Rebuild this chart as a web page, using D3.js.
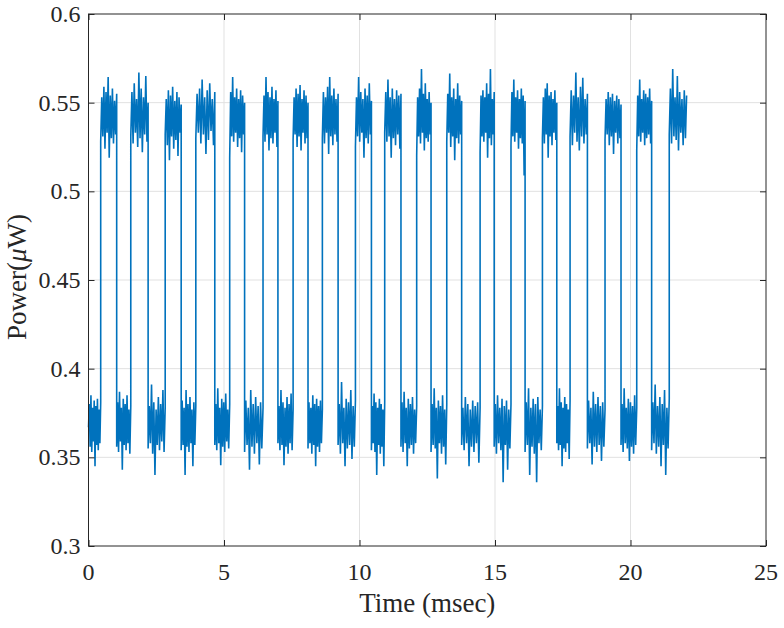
<!DOCTYPE html>
<html>
<head>
<meta charset="utf-8">
<script src="https://cdn.jsdelivr.net/npm/d3@7"></script>
<style>
    body { margin: 0; background: #fff; }
    .chart { width: 784px; height: 628px; }
    .lbl { font-family: "Liberation Serif", "DejaVu Serif", serif; fill: #262626; }
</style>
</head>
<body>
<div class="chart"></div>
<script>
// DATA *****************************************************************************
// axis ticks
var xTicks = [0, 5, 10, 15, 20, 25];
var yTicks = [0.3, 0.35, 0.4, 0.45, 0.5, 0.55, 0.6];
var xTickLabels = ['0', '5', '10', '15', '20', '25'];
var yTickLabels = ['0.3', '0.35', '0.4', '0.45', '0.5', '0.55', '0.6'];

// edge times (msec): low->high and high->low
var riseTimes = [0.45, 1.56, 2.83, 3.96, 5.21, 6.44, 7.55, 8.63, 9.85, 10.93,
                 12.11, 13.22, 14.45, 15.59, 16.75, 17.77, 19.06, 20.23, 21.43];
// last entry is where the record stops
var fallTimes = [1.04, 2.20, 3.42, 4.66, 5.76, 6.99, 8.10, 9.21, 10.44, 11.53,
                 12.64, 13.77, 14.97, 16.11, 17.28, 18.41, 19.65, 20.78, 22.07];

// sampled power (uW) inside each low plateau, left to right
var lowNoise = [
    [.367,.380,.356,.385,.353,.378,.359,.382,.345,.379,.357,.383,.354,.377,.358,.381],
    [.356,.381,.353,.387,.359,.378,.343,.383,.357,.380,.354,.385,.358,.377,.352,.379],
    [.355,.379,.358,.391,.352,.381,.340,.377,.357,.384,.354,.380,.359,.388,.353,.378],
    [.354,.382,.357,.378,.340,.388,.356,.380,.353,.384,.358,.377,.345,.381,.357,.379],
    [.357,.380,.354,.389,.358,.378,.3455,.383,.356,.381,.353,.386,.359,.377,.355,.380],
    [.353,.382,.357,.378,.343,.388,.356,.380,.352,.384,.358,.379,.346,.381,.355,.378],
    [.358,.379,.354,.388,.357,.381,.3455,.378,.356,.384,.352,.380,.358,.386,.354,.377],
    [.355,.381,.358,.378,.352,.385,.357,.380,.345,.383,.356,.379,.353,.382,.358,.377],
    [.357,.380,.352,.3925,.358,.378,.345,.383,.355,.381,.357,.388,.349,.379,.356,.382],
    [.354,.379,.358,.386,.353,.381,.340,.378,.357,.383,.352,.380,.356,.377,.345,.381],
    [.356,.381,.353,.387,.358,.378,.345,.383,.355,.380,.357,.384,.352,.377,.358,.379],
    [.353,.380,.357,.389,.355,.378,.338,.382,.358,.379,.352,.385,.356,.377,.346,.380],
    [.357,.378,.354,.384,.358,.380,.345,.377,.356,.382,.353,.379,.358,.381,.347,.378],
    [.356,.380,.352,.385,.358,.378,.354,.383,.336,.379,.357,.382,.343,.377,.355,.380],
    [.353,.381,.357,.389,.340,.378,.356,.383,.352,.380,.336,.384,.358,.377,.354,.379],
    [.358,.379,.354,.389,.357,.381,.345,.378,.355,.384,.353,.380,.358,.377,.349,.382],
    [.355,.382,.358,.378,.346,.387,.356,.380,.353,.384,.357,.379,.348,.381,.356,.377],
    [.357,.380,.353,.389,.358,.378,.355,.383,.348,.381,.356,.379,.352,.385,.357,.378],
    [.354,.381,.358,.391,.352,.379,.356,.384,.345,.380,.357,.388,.340,.378,.355,.383]
];

// sampled power (uW) inside each high plateau, left to right
var highNoise = [
    [.528,.553,.531,.559,.524,.556,.533,.5645,.519,.554,.530,.558,.527,.551,.532,.555],
    [.531,.556,.527,.561,.533,.552,.525,.567,.530,.558,.522,.553,.532,.565,.528,.550],
    [.532,.552,.526,.557,.5175,.554,.531,.559,.524,.551,.529,.556,.520,.553,.533,.549],
    [.530,.555,.533,.558,.527,.563,.532,.553,.521,.557,.529,.561,.534,.552,.526,.556],
    [.519,.556,.531,.5645,.528,.553,.533,.558,.525,.552,.530,.557,.522,.554,.532,.550],
    [.531,.554,.528,.5645,.532,.556,.523,.553,.530,.559,.527,.552,.533,.557,.525,.551],
    [.529,.553,.532,.558,.525,.555,.531,.560,.523,.552,.533,.557,.527,.554,.530,.550],
    [.530,.556,.527,.553,.533,.559,.521,.5645,.531,.554,.526,.558,.532,.552,.528,.555],
    [.525,.553,.531,.5645,.528,.556,.533,.552,.519,.558,.530,.554,.527,.561,.532,.551],
    [.533,.556,.528,.563,.531,.553,.519,.558,.530,.552,.526,.557,.532,.554,.524,.555],
    [.520,.553,.531,.558,.527,.569,.533,.555,.523,.561,.530,.552,.528,.556,.532,.550],
    [.528,.555,.533,.5664,.525,.553,.531,.558,.5175,.552,.530,.561,.527,.554,.532,.551],
    [.522,.554,.531,.557,.528,.553,.533,.561,.519,.555,.530,.569,.526,.552,.532,.556],
    [.526,.556,.531,.563,.528,.553,.533,.557,.524,.552,.530,.558,.527,.554,.509,.551],
    [.530,.553,.527,.558,.532,.561,.519,.554,.531,.556,.526,.552,.533,.557,.529,.550],
    [.531,.557,.526,.554,.533,.567,.528,.553,.523,.559,.531,.564,.527,.552,.532,.555],
    [.529,.552,.532,.556,.526,.553,.531,.555,.521,.551,.533,.554,.527,.552,.530,.549],
    [.523,.554,.531,.563,.528,.552,.533,.557,.526,.555,.530,.553,.532,.558,.527,.551],
    [.532,.558,.527,.569,.531,.553,.529,.565,.523,.556,.533,.552,.526,.557,.530,.554]
];


// MARGIN CONVENTION ******************************************************************
var margin = {top: 14, right: 18, bottom: 82, left: 88.5};
var width = 784 - margin.left - margin.right,
    height = 628 - margin.top - margin.bottom;

var svg = d3.select('.chart').append('svg')
                .attr('width', 784)
                .attr('height', 628)
            .append('g')
                .attr('transform', 'translate(' + margin.left + ',' + margin.top + ')');

// SCALES
var xScale = d3.scaleLinear().domain([0, 25]).range([0, width]);
var yScale = d3.scaleLinear().domain([0.3, 0.6]).range([height, 0]);


// GRID *******************************************************************************
var gridG = svg.append('g').attr('class', 'grid');
gridG.selectAll('.gx')
    .data(xTicks.slice(1, -1))
    .enter().append('line')
    .attr('x1', function(d) { return xScale(d); })
    .attr('x2', function(d) { return xScale(d); })
    .attr('y1', 0).attr('y2', height);
gridG.selectAll('.gy')
    .data(yTicks.slice(1, -1))
    .enter().append('line')
    .attr('y1', function(d) { return yScale(d); })
    .attr('y2', function(d) { return yScale(d); })
    .attr('x1', 0).attr('x2', width);
gridG.selectAll('line').attr('stroke', '#e1e1e1').attr('stroke-width', 1);


// TRACE ******************************************************************************
// each plateau's samples are spread evenly between its two edges
var samples = [];
function addPlateau(t0, t1, vals) {
    vals.forEach(function(v, k) {
        samples.push({t: t0 + (t1 - t0) * k / (vals.length - 1), p: v});
    });
}
for (var i = 0; i < riseTimes.length; i++) {
    addPlateau(i === 0 ? 0 : fallTimes[i - 1], riseTimes[i], lowNoise[i]);
    addPlateau(riseTimes[i], fallTimes[i], highNoise[i]);
}

var line = d3.line()
                .x(function(d) { return xScale(d.t); })
                .y(function(d) { return yScale(d.p); });

svg.append('path')
    .datum(samples)
    .attr('d', line)
    .attr('fill', 'none')
    .attr('stroke', '#0072BD')
    .attr('stroke-width', 1.6)
    .attr('stroke-linejoin', 'bevel');


// AXES (tick marks only, labels drawn below) ****************************************
function styleAxis(g) {
    g.select('.domain').remove();
    g.selectAll('.tick text').remove();
    g.selectAll('.tick line').attr('stroke', '#262626').attr('stroke-width', 1);
}

svg.append('g')
    .attr('transform', 'translate(0,' + height + ')')
    .call(d3.axisBottom(xScale).tickValues(xTicks).tickSizeInner(-6).tickSizeOuter(0))
    .call(styleAxis);
svg.append('g')
    .call(d3.axisLeft(yScale).tickValues(yTicks).tickSizeInner(-6).tickSizeOuter(0))
    .call(styleAxis);
// mirrored ticks on top and right (box on)
svg.append('g')
    .call(d3.axisTop(xScale).tickValues(xTicks).tickSizeInner(-6).tickSizeOuter(0))
    .call(styleAxis);
svg.append('g')
    .attr('transform', 'translate(' + width + ',0)')
    .call(d3.axisRight(yScale).tickValues(yTicks).tickSizeInner(-6).tickSizeOuter(0))
    .call(styleAxis);

// TICK LABELS
svg.append('g').selectAll('text')
    .data(xTicks)
    .enter().append('text')
    .attr('class', 'lbl')
    .attr('x', function(d) { return xScale(d); })
    .attr('y', height + 34)
    .attr('text-anchor', 'middle')
    .attr('font-size', 24)
    .text(function(d, i) { return xTickLabels[i]; });

svg.append('g').selectAll('text')
    .data(yTicks)
    .enter().append('text')
    .attr('class', 'lbl')
    .attr('x', -8)
    .attr('y', function(d) { return yScale(d) + 8; })
    .attr('text-anchor', 'end')
    .attr('font-size', 24)
    .text(function(d, i) { return yTickLabels[i]; });

// BOX
svg.append('rect')
    .attr('x', 0).attr('y', 0)
    .attr('width', width).attr('height', height)
    .attr('fill', 'none')
    .attr('stroke', '#262626')
    .attr('stroke-width', 1);


// LABELS *****************************************************************************
svg.append('text')
    .attr('class', 'lbl')
    .attr('x', width / 2)
    .attr('y', height + 66)
    .attr('text-anchor', 'middle')
    .attr('font-size', 27)
    .text('Time (msec)');

var yLab = svg.append('text')
    .attr('class', 'lbl')
    .attr('transform', 'translate(' + (26 - margin.left) + ',' + (height / 2 - 3) + ') rotate(-90)')
    .attr('text-anchor', 'middle')
    .attr('font-size', 27);
yLab.append('tspan').text('Power(');
yLab.append('tspan').attr('font-style', 'italic').text('\u03bc');
yLab.append('tspan').text('W)');
</script>
</body>
</html>
